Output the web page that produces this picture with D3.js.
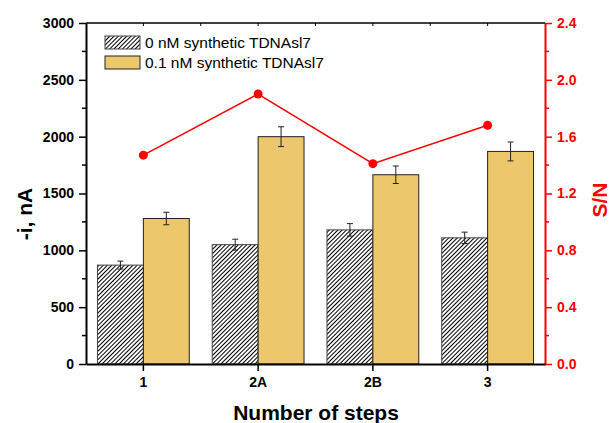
<!DOCTYPE html>
<html>
<head>
<meta charset="utf-8">
<script src="https://cdn.jsdelivr.net/npm/d3@7"></script>
<style>
  body { margin: 0; background: #fff; }
  text { font-family: Arial, "Liberation Sans", sans-serif; }
</style>
</head>
<body>
<div id="chart"></div>
<script>
// data
var steps = ["1", "2A", "2B", "3"];
var blank = [870, 1050, 1180, 1110];        // 0 nM synthetic TDNAsl7
var blankErr = [35, 48, 55, 50];
var target = [1280, 2000, 1665, 1870];      // 0.1 nM synthetic TDNAsl7
var targetErr = [55, 87, 77, 83];
var snRatio = [1.47, 1.90, 1.41, 1.68];
var leftTicks = [0, 500, 1000, 1500, 2000, 2500, 3000];
var rightTicks = [0.0, 0.4, 0.8, 1.2, 1.6, 2.0, 2.4];
var seriesNames = ["0 nM synthetic TDNAsl7", "0.1 nM synthetic TDNAsl7"];

var W = 611, H = 423;
var margin = {top: 23, right: 66, bottom: 59, left: 86},
    width = W - margin.left - margin.right,
    height = H - margin.top - margin.bottom;

var gold = "#ECC76B",
    red = "#FF0000";

var svg = d3.select("#chart").append("svg")
    .attr("width", W)
    .attr("height", H);

var defs = svg.append("defs");
defs.append("pattern")
    .attr("id", "hatch")
    .attr("patternUnits", "userSpaceOnUse")
    .attr("width", 3)
    .attr("height", 3)
    .attr("patternTransform", "rotate(45)")
    .call(function(p) {
        p.append("rect").attr("width", 3).attr("height", 3).attr("fill", "#fff");
        p.append("line")
            .attr("x1", 0.5).attr("y1", 0).attr("x2", 0.5).attr("y2", 3)
            .attr("stroke", "#000").attr("stroke-width", 1);
    });

var g = svg.append("g")
    .attr("transform", "translate(" + margin.left + "," + margin.top + ")");

var X = d3.scaleBand().domain(steps).range([0, width]).padding(0);
var Y = d3.scaleLinear().domain([0, 3000]).range([height, 0]);
var Y2 = d3.scaleLinear().domain([0, 2.4]).range([height, 0]);

var barW = X.bandwidth() * 0.4;
var cx = function(d) { return X(d) + X.bandwidth() / 2; };

// bars
var rows = steps.map(function(s, i) {
    return {step: s, blank: blank[i], bErr: blankErr[i], target: target[i], tErr: targetErr[i]};
});

g.selectAll(".bar0").data(rows).enter().append("rect")
    .attr("class", "bar0")
    .attr("x", function(d) { return cx(d.step) - barW; })
    .attr("y", function(d) { return Y(d.blank); })
    .attr("width", barW)
    .attr("height", function(d) { return height - Y(d.blank); })
    .attr("fill", "url(#hatch)")
    .attr("stroke", "#444")
    .attr("stroke-width", 1);

g.selectAll(".bar1").data(rows).enter().append("rect")
    .attr("class", "bar1")
    .attr("x", function(d) { return cx(d.step); })
    .attr("y", function(d) { return Y(d.target); })
    .attr("width", barW)
    .attr("height", function(d) { return height - Y(d.target); })
    .attr("fill", gold)
    .attr("stroke", "#222")
    .attr("stroke-width", 1);

// error bars
var errs = [];
rows.forEach(function(d) {
    errs.push({x: cx(d.step) - barW / 2, v: d.blank, e: d.bErr});
    errs.push({x: cx(d.step) + barW / 2, v: d.target, e: d.tErr});
});
var eb = g.selectAll(".err").data(errs).enter().append("g")
    .attr("class", "err")
    .attr("stroke", "#222")
    .attr("stroke-width", 1);
eb.append("line")
    .attr("x1", function(d) { return d.x; })
    .attr("x2", function(d) { return d.x; })
    .attr("y1", function(d) { return Y(d.v - d.e); })
    .attr("y2", function(d) { return Y(d.v + d.e); });
eb.append("line")
    .attr("x1", function(d) { return d.x - 3; })
    .attr("x2", function(d) { return d.x + 3; })
    .attr("y1", function(d) { return Y(d.v + d.e); })
    .attr("y2", function(d) { return Y(d.v + d.e); });
eb.append("line")
    .attr("x1", function(d) { return d.x - 3; })
    .attr("x2", function(d) { return d.x + 3; })
    .attr("y1", function(d) { return Y(d.v - d.e); })
    .attr("y2", function(d) { return Y(d.v - d.e); });

// S/N line
var line = d3.line()
    .x(function(d, i) { return cx(steps[i]); })
    .y(function(d) { return Y2(d); });
g.append("path")
    .datum(snRatio)
    .attr("d", line)
    .attr("fill", "none")
    .attr("stroke", red)
    .attr("stroke-width", 1.5);
g.selectAll(".pt").data(snRatio).enter().append("circle")
    .attr("class", "pt")
    .attr("cx", function(d, i) { return cx(steps[i]); })
    .attr("cy", function(d) { return Y2(d); })
    .attr("r", 4.5)
    .attr("fill", red);

// left axis
var minorL = d3.range(250, 3000, 500);
g.append("g")
    .selectAll("line").data(minorL).enter().append("line")
    .attr("x1", -4).attr("x2", 0)
    .attr("y1", function(d) { return Y(d); })
    .attr("y2", function(d) { return Y(d); })
    .attr("stroke", "#000").attr("stroke-width", 1.5);
var yAxis = g.append("g")
    .call(d3.axisLeft(Y).tickValues(leftTicks).tickSize(7).tickSizeOuter(0).tickPadding(5)
        .tickFormat(d3.format("d")));
yAxis.select(".domain").attr("stroke-width", 2);
yAxis.selectAll(".tick line").attr("stroke-width", 1.5);
yAxis.selectAll("text")
    .attr("font-size", 14).attr("font-weight", "bold").attr("fill", "#000");

// right axis (red)
var minorR = d3.range(0.2, 2.4, 0.4);
g.append("g")
    .selectAll("line").data(minorR).enter().append("line")
    .attr("x1", width).attr("x2", width + 4)
    .attr("y1", function(d) { return Y2(d); })
    .attr("y2", function(d) { return Y2(d); })
    .attr("stroke", red).attr("stroke-width", 1.5);
var y2Axis = g.append("g")
    .attr("transform", "translate(" + width + ",0)")
    .call(d3.axisRight(Y2).tickValues(rightTicks).tickSize(7).tickSizeOuter(0).tickPadding(5)
        .tickFormat(d3.format(".1f")));
y2Axis.select(".domain").attr("stroke", red).attr("stroke-width", 2);
y2Axis.selectAll(".tick line").attr("stroke", red).attr("stroke-width", 1.5);
y2Axis.selectAll("text")
    .attr("font-size", 14).attr("font-weight", "bold").attr("fill", red);

// top border with inward ticks at centres and boundaries
g.append("line")
    .attr("x1", 0).attr("x2", width).attr("y1", 0).attr("y2", 0)
    .attr("stroke", "#000").attr("stroke-width", 1.5);
var topTicks = steps.map(cx).concat(steps.slice(1).map(function(d) { return X(d); }));
g.append("g").selectAll("line").data(topTicks).enter().append("line")
    .attr("x1", function(d) { return d; })
    .attr("x2", function(d) { return d; })
    .attr("y1", 0).attr("y2", 3)
    .attr("stroke", "#000").attr("stroke-width", 1);

// bottom axis
var xAxis = g.append("g")
    .attr("transform", "translate(0," + height + ")")
    .call(d3.axisBottom(X).tickSize(7).tickSizeOuter(0).tickPadding(6));
xAxis.select(".domain").attr("stroke-width", 2);
xAxis.selectAll(".tick line").attr("stroke-width", 1.5);
xAxis.selectAll("text")
    .attr("font-size", 14).attr("font-weight", "bold").attr("fill", "#000");

// axis titles
svg.append("text")
    .attr("transform", "translate(32,214) rotate(-90)")
    .attr("text-anchor", "middle")
    .attr("font-size", 21).attr("font-weight", "bold")
    .text("-i, nA");
svg.append("text")
    .attr("transform", "translate(607,200) rotate(-90)")
    .attr("text-anchor", "middle")
    .attr("font-size", 21).attr("font-weight", "bold")
    .attr("fill", red)
    .text("S/N");
svg.append("text")
    .attr("x", 316).attr("y", 420)
    .attr("text-anchor", "middle")
    .attr("font-size", 21).attr("font-weight", "bold")
    .text("Number of steps");

// legend
var legend = svg.append("g").attr("transform", "translate(105,36)");
var legFill = ["url(#hatch)", gold];
var legStroke = ["#444", "#222"];
seriesNames.forEach(function(name, i) {
    var row = legend.append("g").attr("transform", "translate(0," + (i * 20) + ")");
    row.append("rect")
        .attr("width", 35).attr("height", 13)
        .attr("fill", legFill[i])
        .attr("stroke", legStroke[i])
        .attr("stroke-width", 1);
    row.append("text")
        .attr("x", 40).attr("y", 12)
        .attr("font-size", 15.5)
        .text(name);
});
</script>
</body>
</html>
